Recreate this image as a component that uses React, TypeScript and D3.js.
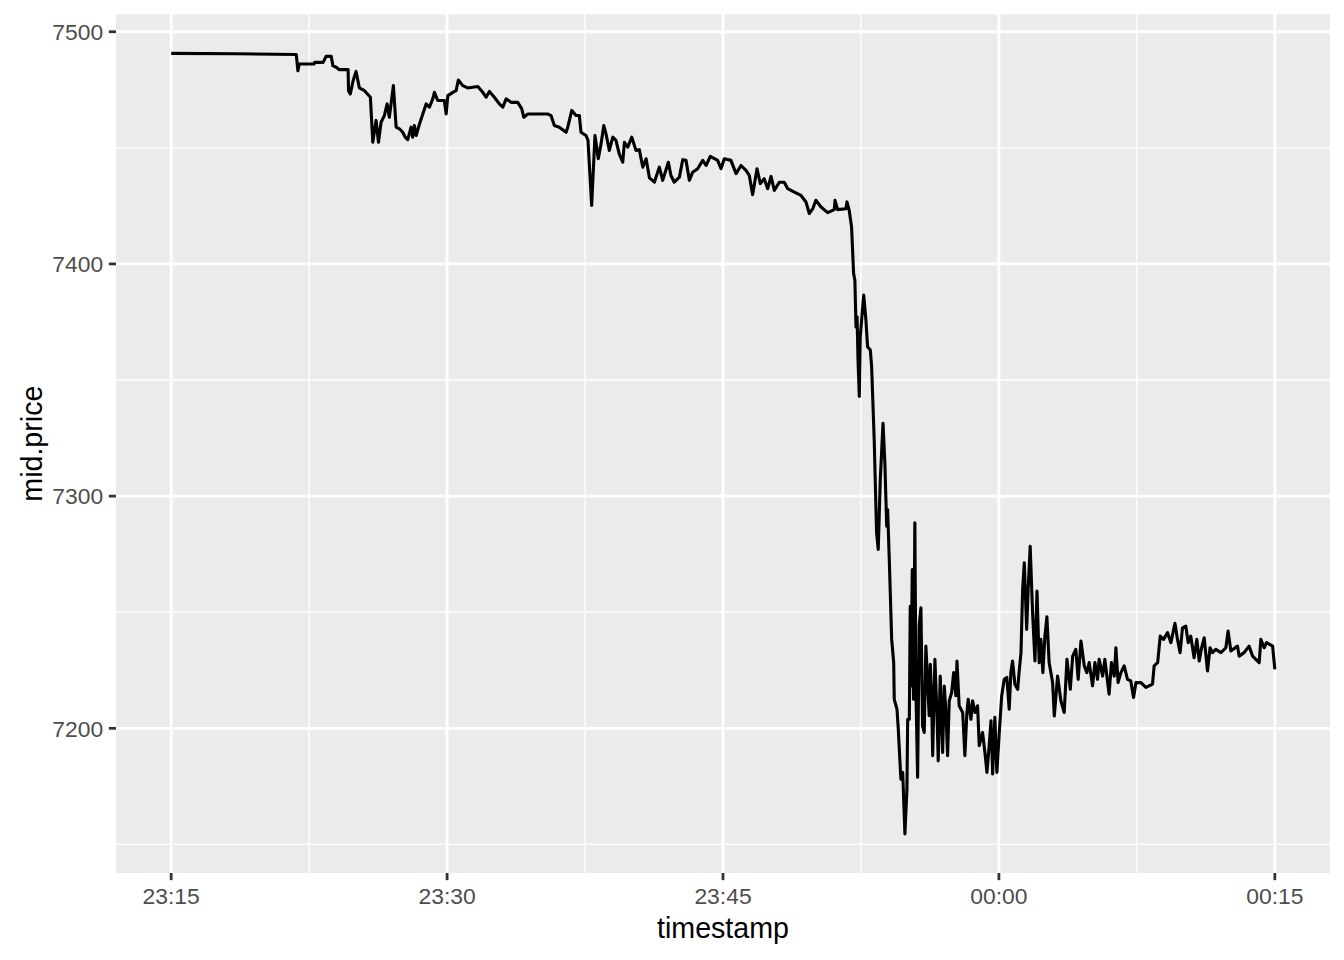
import React from "react";
import * as d3 from "d3";

// minutes after 23:15
const minutes = [
  0.0, 3.5, 6.8, 6.89, 6.96, 7.77, 7.8, 8.26, 8.42, 8.7, 8.79, 8.97, 9.13, 9.62, 9.64, 9.74, 9.89, 10.05, 10.23, 10.51,
  10.83, 10.96, 11.14, 11.27, 11.41, 11.59, 11.74, 11.86, 12.08, 12.23, 12.41, 12.59, 12.72, 12.86, 13.04, 13.13, 13.22, 13.32, 13.5, 13.68,
  13.86, 14.04, 14.22, 14.31, 14.49, 14.85, 14.95, 15.04, 15.31, 15.49, 15.61, 15.85, 16.12, 16.67, 16.94, 17.12, 17.3, 17.57, 17.84, 18.03,
  18.21, 18.48, 18.84, 19.06, 19.17, 19.39, 20.47, 20.65, 20.83, 21.1, 21.47, 21.56, 21.78, 22.01, 22.19, 22.28, 22.55, 22.66, 22.86, 23.04,
  23.22, 23.37, 23.52, 23.64, 23.82, 24.01, 24.18, 24.36, 24.55, 24.64, 24.82, 25.04, 25.27, 25.45, 25.64, 25.82, 26.0, 26.27, 26.54, 26.72,
  27.03, 27.17, 27.35, 27.63, 27.81, 27.99, 28.17, 28.35, 28.62, 28.9, 29.08, 29.31, 29.71, 29.89, 30.07, 30.43, 30.71, 30.98, 31.25, 31.43,
  31.61, 31.85, 32.03, 32.24, 32.43, 32.61, 32.79, 33.06, 33.33, 33.52, 33.88, 34.24, 34.51, 34.69, 34.88, 35.05, 35.33, 35.69, 36.05, 36.09,
  36.23, 36.68, 36.74, 36.86, 36.99, 37.1, 37.17, 37.23, 37.29, 37.34, 37.41, 37.46, 37.65, 37.77, 37.86, 38.01, 38.08, 38.22, 38.35, 38.44,
  38.55, 38.7, 38.8, 38.9, 38.95, 39.04, 39.17, 39.28, 39.31, 39.46, 39.53, 39.67, 39.77, 39.89, 40.0, 40.04, 40.13, 40.18, 40.22, 40.29,
  40.36, 40.43, 40.49, 40.58, 40.67, 40.76, 40.85, 40.94, 41.03, 41.12, 41.21, 41.27, 41.34, 41.4, 41.52, 41.63, 41.7, 41.81, 41.94, 42.03,
  42.12, 42.21, 42.3, 42.43, 42.54, 42.66, 42.72, 42.84, 43.03, 43.15, 43.26, 43.33, 43.48, 43.57, 43.7, 43.84, 43.93, 44.11, 44.24, 44.35,
  44.47, 44.57, 44.66, 44.78, 44.89, 45.02, 45.15, 45.29, 45.43, 45.56, 45.65, 45.74, 45.87, 46.02, 46.11, 46.2, 46.29, 46.38, 46.51, 46.59,
  46.7, 46.83, 46.96, 47.07, 47.19, 47.28, 47.39, 47.5, 47.61, 47.73, 47.92, 48.01, 48.19, 48.37, 48.55, 48.7, 48.88, 49.01, 49.18, 49.31,
  49.46, 49.64, 49.78, 49.91, 50.09, 50.22, 50.36, 50.45, 50.64, 50.76, 50.99, 51.12, 51.27, 51.36, 51.48, 51.63, 51.81, 51.99, 52.17, 52.32,
  52.45, 52.72, 52.99, 53.35, 53.44, 53.63, 53.77, 53.95, 54.17, 54.35, 54.57, 54.71, 54.85, 54.98, 55.16, 55.29, 55.43, 55.61, 55.76, 55.89,
  56.02, 56.16, 56.34, 56.48, 56.61, 56.79, 57.07, 57.34, 57.46, 57.61, 57.97, 58.06, 58.33, 58.6, 58.79, 58.97, 59.15, 59.24, 59.42, 59.55,
  59.88, 60.0,
];

const prices = [
  7490.7, 7490.5, 7490.2, 7483.2, 7486.1, 7486.1, 7486.8, 7486.8, 7489.4, 7489.4, 7485.4, 7484.7, 7483.7, 7483.7, 7474.6, 7473.2, 7478.9, 7482.9, 7475.8, 7474.6,
  7471.8, 7452.4, 7461.8, 7452.4, 7461.0, 7463.9, 7468.9, 7463.2, 7476.8, 7458.9, 7458.2, 7456.7, 7454.6, 7453.5, 7458.9, 7454.6, 7459.6, 7455.3, 7460.3, 7464.6,
  7468.9, 7467.5, 7471.1, 7473.9, 7470.4, 7470.4, 7464.6, 7472.5, 7473.9, 7474.6, 7479.2, 7476.8, 7475.8, 7476.4, 7473.9, 7471.8, 7474.3, 7471.8, 7468.9, 7467.5,
  7471.1, 7469.6, 7469.6, 7466.8, 7463.2, 7464.6, 7464.6, 7463.9, 7459.6, 7458.9, 7456.7, 7458.9, 7466.1, 7463.9, 7463.9, 7456.7, 7455.3, 7453.2, 7425.2, 7455.3,
  7445.3, 7451.7, 7459.6, 7456.0, 7448.9, 7454.6, 7453.2, 7447.4, 7443.8, 7452.4, 7450.3, 7454.6, 7448.9, 7449.2, 7441.7, 7445.3, 7437.1, 7435.2, 7441.7, 7436.0,
  7443.8, 7438.1, 7435.2, 7437.4, 7444.9, 7444.6, 7436.0, 7439.5, 7441.0, 7444.6, 7442.4, 7446.3, 7444.6, 7441.0, 7445.3, 7444.6, 7438.9, 7442.4, 7440.3, 7438.1,
  7429.8, 7441.0, 7434.6, 7436.7, 7432.4, 7437.7, 7431.7, 7435.2, 7435.2, 7432.4, 7430.9, 7429.5, 7426.7, 7421.7, 7423.8, 7427.4, 7424.5, 7422.1, 7423.4, 7427.4,
  7423.4, 7423.8, 7426.7, 7423.1, 7415.9, 7395.9, 7393.0, 7372.9, 7377.2, 7358.6, 7342.9, 7368.6, 7386.6, 7375.8, 7364.3, 7362.9, 7355.8, 7324.3, 7284.2, 7277.0,
  7307.1, 7331.4, 7314.2, 7287.0, 7294.2, 7272.7, 7238.3, 7228.3, 7212.5, 7208.2, 7199.6, 7178.1, 7181.0, 7154.5, 7173.9, 7203.9, 7203.9, 7252.6, 7218.2, 7268.4,
  7212.5, 7288.5, 7215.4, 7178.9, 7244.8, 7251.9, 7201.1, 7198.2, 7235.4, 7221.1, 7205.4, 7227.6, 7212.5, 7188.2, 7229.7, 7206.8, 7186.0, 7222.5, 7189.6, 7218.2,
  7206.8, 7188.2, 7211.8, 7215.4, 7224.0, 7214.0, 7229.0, 7209.7, 7206.8, 7188.2, 7206.8, 7212.5, 7203.9, 7211.8, 7206.8, 7209.7, 7192.5, 7198.2, 7189.6, 7181.0,
  7192.5, 7203.2, 7180.3, 7204.7, 7181.0, 7198.2, 7213.9, 7221.1, 7221.9, 7208.2, 7224.0, 7229.0, 7219.0, 7216.8, 7225.4, 7232.6, 7259.8, 7271.3, 7242.6, 7259.8,
  7278.4, 7249.8, 7229.0, 7259.1, 7228.3, 7238.3, 7224.0, 7239.7, 7248.0, 7228.3, 7219.7, 7205.3, 7222.5, 7211.8, 7206.8, 7229.7, 7216.8, 7231.1, 7234.0, 7221.1,
  7237.6, 7226.9, 7224.0, 7228.3, 7218.3, 7228.3, 7221.1, 7229.7, 7222.5, 7229.7, 7214.7, 7228.3, 7222.5, 7234.7, 7219.7, 7224.0, 7226.9, 7221.1, 7220.4, 7213.3,
  7219.7, 7219.7, 7217.6, 7219.0, 7226.9, 7228.3, 7239.7, 7238.3, 7241.2, 7236.9, 7245.2, 7238.3, 7232.6, 7243.3, 7244.0, 7236.9, 7239.7, 7230.4, 7238.3, 7229.0,
  7234.7, 7239.0, 7224.7, 7234.7, 7232.6, 7234.0, 7232.6, 7234.7, 7241.9, 7233.3, 7235.4, 7231.1, 7232.6, 7235.4, 7231.1, 7229.7, 7228.3, 7238.3, 7234.7, 7236.9,
  7235.4, 7225.4,
];

const yBreaks = [7200, 7300, 7400, 7500];
const yMinorBreaks = [7150, 7250, 7350, 7450];
const xTitle = "timestamp";
const yTitle = "mid.price";

const W = 1344;
const H = 960;
const K = 2.6; // px per pt
const panel = { left: 116, right: 1330, top: 14.3, bottom: 873 };
const FONT = "'Liberation Sans', Arial, Helvetica, sans-serif";

export default function App() {
  const base = new Date(2018, 0, 1, 23, 15, 0).getTime();
  const times = minutes.map((m) => new Date(base + m * 60000));
  const data = times.map((t, i) => ({ t, p: prices[i] }));

  const [t0, t1] = d3.extent(times) as [Date, Date];
  const tPad = (t1.getTime() - t0.getTime()) * 0.05;
  const x = d3
    .scaleTime()
    .domain([new Date(t0.getTime() - tPad), new Date(t1.getTime() + tPad)])
    .range([panel.left, panel.right]);

  const [p0, p1] = d3.extent(prices) as [number, number];
  const pPad = (p1 - p0) * 0.05;
  const y = d3.scaleLinear().domain([p0 - pPad, p1 + pPad]).range([panel.bottom, panel.top]);

  const xTicks = x.ticks(d3.timeMinute.every(15) as d3.TimeInterval);
  const xMinor: Date[] = [];
  const step = 15 * 60000;
  const dom = x.domain();
  const first = xTicks[0].getTime() - step / 2;
  for (let v = first; v <= dom[1].getTime(); v += step) {
    if (v >= dom[0].getTime()) xMinor.push(new Date(v));
  }
  const fmt = d3.timeFormat("%H:%M");

  const line = d3
    .line<{ t: Date; p: number }>()
    .x((d) => x(d.t))
    .y((d) => y(d.p));

  const majorW = 1.07 * K;
  const minorW = majorW / 2;
  const tickLen = 2.75 * K;
  const axisFont = 8.8 * K;
  const titleFont = 11 * K;

  return (
    <svg
      width={W}
      height={H}
      style={{ position: "absolute", left: 0, top: 0, background: "#fff" }}
      fontFamily={FONT}
    >
      <rect
        x={panel.left}
        y={panel.top}
        width={panel.right - panel.left}
        height={panel.bottom - panel.top}
        fill="#EBEBEB"
      />
      {yMinorBreaks.map((b) => (
        <line key={"ym" + b} x1={panel.left} x2={panel.right} y1={y(b)} y2={y(b)} stroke="#fff" strokeWidth={minorW} />
      ))}
      {xMinor.map((d, i) => (
        <line key={"xm" + i} x1={x(d)} x2={x(d)} y1={panel.top} y2={panel.bottom} stroke="#fff" strokeWidth={minorW} />
      ))}
      {yBreaks.map((b) => (
        <line key={"yM" + b} x1={panel.left} x2={panel.right} y1={y(b)} y2={y(b)} stroke="#fff" strokeWidth={majorW} />
      ))}
      {xTicks.map((d, i) => (
        <line key={"xM" + i} x1={x(d)} x2={x(d)} y1={panel.top} y2={panel.bottom} stroke="#fff" strokeWidth={majorW} />
      ))}
      <path
        d={line(data) || ""}
        fill="none"
        stroke="#000"
        strokeWidth={3.1}
        strokeLinejoin="round"
        strokeLinecap="butt"
      />
      {/* y axis */}
      {yBreaks.map((b) => (
        <g key={"yt" + b}>
          <line x1={panel.left - tickLen} x2={panel.left} y1={y(b)} y2={y(b)} stroke="#333333" strokeWidth={majorW} />
          <text
            x={panel.left - tickLen - 2.2 * K}
            y={y(b) + axisFont * 0.358}
            textAnchor="end"
            fontSize={axisFont}
            fill="#4D4D4D"
          >
            {b}
          </text>
        </g>
      ))}
      {/* x axis */}
      {xTicks.map((d, i) => (
        <g key={"xt" + i}>
          <line x1={x(d)} x2={x(d)} y1={panel.bottom} y2={panel.bottom + tickLen} stroke="#333333" strokeWidth={majorW} />
          <text x={x(d)} y={904} textAnchor="middle" fontSize={axisFont} fill="#4D4D4D">
            {fmt(d)}
          </text>
        </g>
      ))}
      <text x={(panel.left + panel.right) / 2} y={938} textAnchor="middle" fontSize={titleFont} fill="#000">
        {xTitle}
      </text>
      <text
        transform={`translate(42, ${(panel.top + panel.bottom) / 2}) rotate(-90)`}
        textAnchor="middle"
        fontSize={titleFont}
        fill="#000"
      >
        {yTitle}
      </text>
    </svg>
  );
}
